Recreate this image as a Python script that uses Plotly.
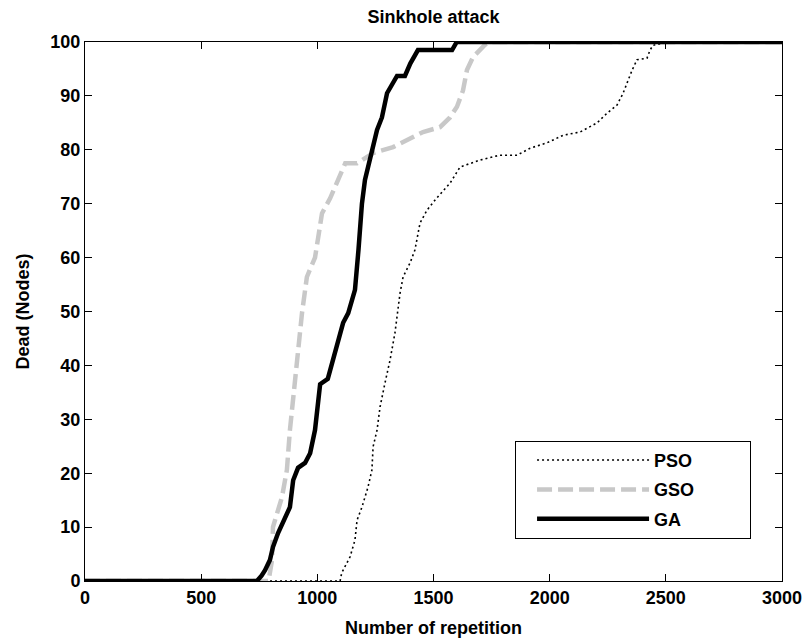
import plotly.graph_objects as go

# ---------------- data ----------------
ga_x = [0, 740, 760, 775, 796, 809, 831, 852, 882, 896, 917, 947, 969, 990, 1004, 1012, 1045,
        1068, 1089, 1111, 1133, 1162, 1177, 1192, 1205, 1235, 1257, 1278, 1300, 1343, 1377,
        1400, 1433, 1580, 1600, 3000]
ga_y = [0, 0, 1, 2, 3.9, 6.3, 8.9, 10.8, 13.7, 18.7, 21, 21.9, 23.7, 28, 33.6, 36.5, 37.5,
        41, 44.2, 47.9, 49.7, 54, 61.4, 70, 74.4, 80, 83.7, 86, 90.5, 93.7, 93.7,
        96, 98.5, 98.5, 100, 100]

gso_x = [0, 790, 805, 809, 848, 869, 882, 896, 917, 934, 955, 990, 1004, 1020, 1055, 1098,
         1120, 1171, 1240, 1326, 1386, 1455, 1528, 1571, 1601, 1627, 1644, 1670, 1722, 1745, 3000]
gso_y = [0, 0, 3.9, 10, 15.6, 20.6, 28, 34, 42.9, 49.7, 56.4, 60, 63.8, 68.2, 71, 75,
         77.5, 77.5, 79.4, 80.5, 81.8, 83.3, 84.2, 86, 88, 91, 94.8, 97.2, 99.5, 100, 100]

pso_x = [0, 1098, 1105, 1141, 1162, 1171, 1192, 1218, 1235, 1240, 1257, 1270, 1291, 1313,
         1334, 1343, 1356, 1369, 1399, 1420, 1433, 1442, 1472, 1507, 1571, 1614, 1700, 1786,
         1860, 1916, 1989, 2058, 2131, 2204, 2247, 2290, 2316, 2333, 2355, 2376, 2419, 2432,
         2445, 2488, 2500, 3000]
pso_y = [0, 0, 1.5, 4.5, 7.6, 11.3, 13.7, 17.4, 20.6, 24.9, 28, 32.3, 36.7, 41,
         46, 49, 53.4, 56.4, 59, 61.4, 64.6, 66.4, 68.8, 70.7, 73.8, 76.8, 78.1, 79,
         79, 80.3, 81.3, 82.7, 83.3, 85, 86.8, 88.3, 90.5, 92.4, 94.8, 96.7, 97, 98.5,
         99.4, 99.8, 100, 100]

x_ticks = [0, 500, 1000, 1500, 2000, 2500, 3000]
y_ticks = [0, 10, 20, 30, 40, 50, 60, 70, 80, 90, 100]

title_text = "Sinkhole attack"
x_label = "Number of repetition"
y_label = "Dead (Nodes)"
series_names = ["PSO", "GSO", "GA"]

# ---------------- figure ----------------
FONT = "Liberation Sans, Arial, sans-serif"
PAD = "\u00a0" * 10

fig = go.Figure()
fig.add_trace(go.Scatter(x=pso_x, y=pso_y, mode="lines", name=series_names[0] + PAD,
                         legendgroup="a",
                         line=dict(color="black", width=1.6, dash="2px,3px")))
fig.add_trace(go.Scatter(x=gso_x, y=gso_y, mode="lines", name=series_names[1] + PAD,
                         legendgroup="b",
                         line=dict(color="#c8c8c8", width=4.5, dash="15px,6px")))
fig.add_trace(go.Scatter(x=ga_x, y=ga_y, mode="lines", name=series_names[2] + PAD,
                         legendgroup="c",
                         line=dict(color="black", width=4.5)))

axis_common = dict(showgrid=False, zeroline=False, showline=True, linecolor="black",
                   linewidth=1, mirror="allticks", ticks="inside", ticklen=7,
                   tickcolor="black", tickwidth=1, automargin=False,
                   tickfont=dict(family=FONT, size=18, color="black", weight="bold"))

fig.update_layout(
    width=805, height=642,
    margin=dict(l=85, r=23, t=42, b=61),
    paper_bgcolor="white", plot_bgcolor="white",
    title=dict(text=title_text, x=0.5, xref="paper", y=1 - 17 / 642, yanchor="middle",
               font=dict(family=FONT, size=18, color="black", weight="bold")),
    xaxis=dict(range=[0, 3000], tickvals=x_ticks, ticktext=[str(v) for v in x_ticks],
               title=dict(text=x_label, standoff=14,
                          font=dict(family=FONT, size=18, color="black", weight="bold")),
               **axis_common),
    yaxis=dict(range=[0, 100], tickvals=y_ticks, ticktext=[str(v) for v in y_ticks],
               title=dict(text=y_label, standoff=16,
                          font=dict(family=FONT, size=18, color="black", weight="bold")),
               **axis_common),
    legend=dict(x=0.617, y=0.26, xanchor="left", yanchor="top",
                bgcolor="white", bordercolor="black", borderwidth=1,
                itemwidth=112, tracegroupgap=3, indentation=16,
                font=dict(family=FONT, size=18, color="black", weight="bold")),
    showlegend=True,
)

fig.write_html("out.html")
